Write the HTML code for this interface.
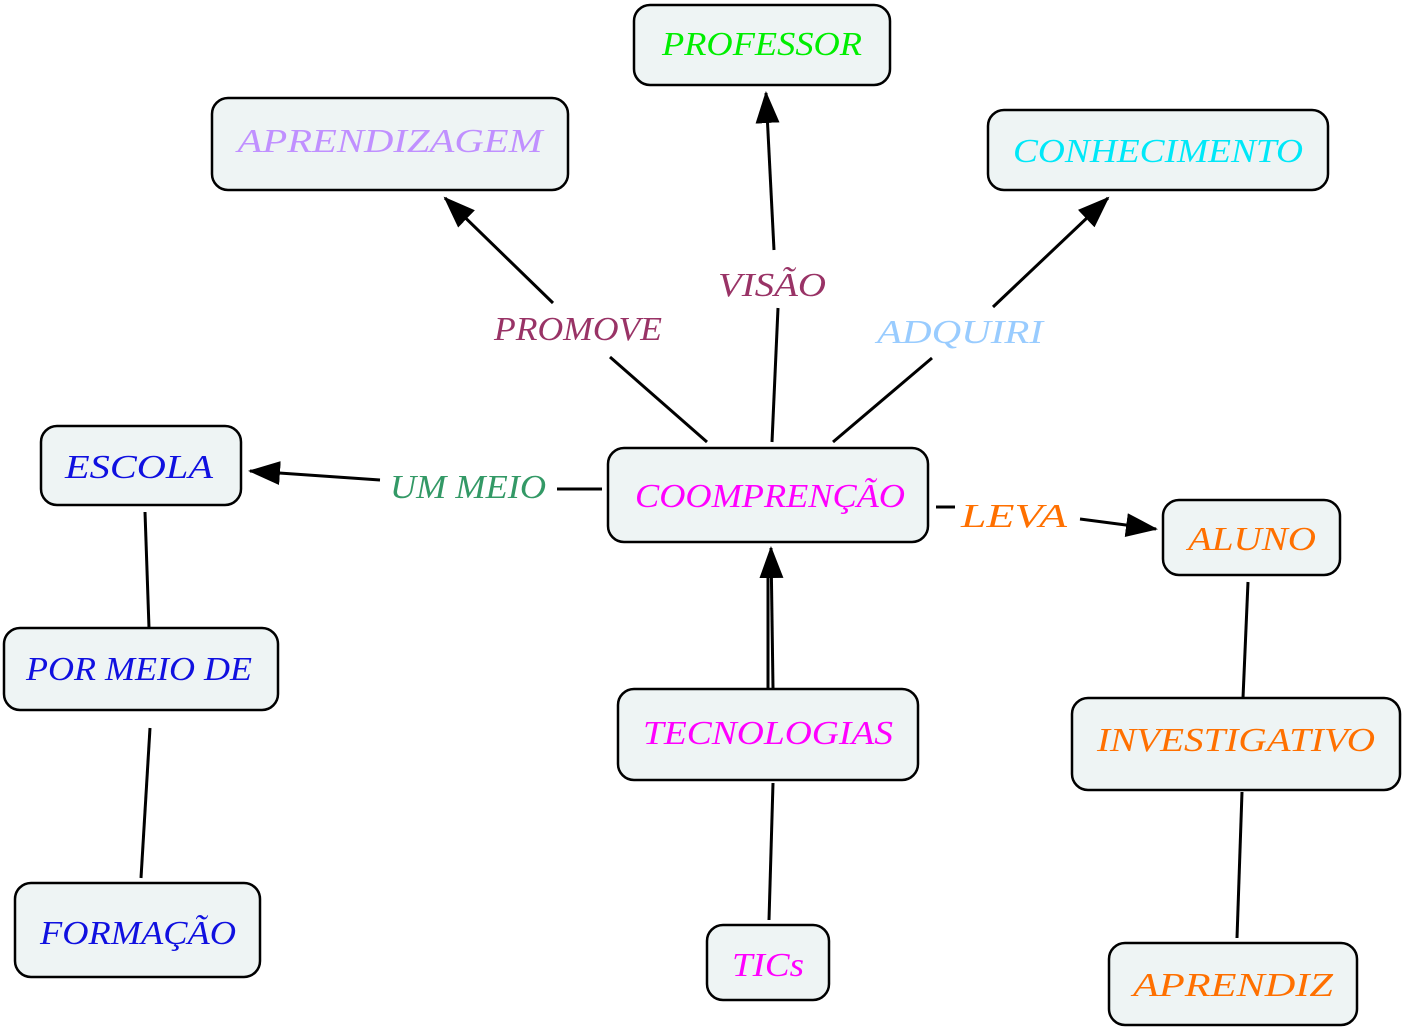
<!DOCTYPE html>
<html><head><meta charset="utf-8"><style>
html,body{margin:0;padding:0;background:#fff;}
svg text{font-family:"Liberation Serif",serif;font-style:italic;}
</style></head><body>
<svg width="1405" height="1030" viewBox="0 0 1405 1030" xmlns="http://www.w3.org/2000/svg">
<defs><marker id="a" markerWidth="10" markerHeight="10" refX="9" refY="5" orient="auto" markerUnits="userSpaceOnUse" viewBox="0 0 10 10"><path d="M0,0 L10,5 L0,10 z" fill="#000"/></marker>
<marker id="b" markerWidth="32" markerHeight="32" refX="30" refY="16" orient="auto" markerUnits="userSpaceOnUse" viewBox="0 0 32 32"><path d="M0,4 L32,16 L0,28 z" fill="#000"/></marker></defs>
<g stroke="#000" stroke-width="3" fill="none">
<line x1="707" y1="442" x2="610" y2="357"/>
<line x1="553" y1="303" x2="445" y2="198" marker-end="url(#b)"/>
<line x1="772" y1="442" x2="778" y2="308"/>
<line x1="774" y1="250" x2="766" y2="93" marker-end="url(#b)"/>
<line x1="833" y1="442" x2="932" y2="358"/>
<line x1="993" y1="307" x2="1108" y2="198" marker-end="url(#b)"/>
<line x1="602" y1="489" x2="557" y2="489"/>
<line x1="380" y1="480" x2="250" y2="471" marker-end="url(#b)"/>
<line x1="936" y1="507" x2="955" y2="507"/>
<line x1="1080" y1="519" x2="1156" y2="529" marker-end="url(#b)"/>
<line x1="768" y1="688" x2="768" y2="560"/>
<line x1="773" y1="688" x2="771" y2="548" marker-end="url(#b)"/>
<line x1="145" y1="512" x2="149" y2="628"/>
<line x1="150" y1="728" x2="141" y2="878"/>
<line x1="769" y1="920" x2="773" y2="783"/>
<line x1="1248" y1="582" x2="1243" y2="698"/>
<line x1="1242" y1="792" x2="1237" y2="938"/>
</g>
<g fill="#eef4f4" stroke="#000" stroke-width="2.5">
<rect x="634" y="5" width="256" height="80" rx="16"/>
<rect x="212" y="98" width="356" height="92" rx="16"/>
<rect x="988" y="110" width="340" height="80" rx="16"/>
<rect x="41" y="426" width="200" height="79" rx="16"/>
<rect x="608" y="448" width="320" height="94" rx="16"/>
<rect x="1163" y="500" width="177" height="75" rx="16"/>
<rect x="4" y="628" width="274" height="82" rx="16"/>
<rect x="618" y="689" width="300" height="91" rx="16"/>
<rect x="1072" y="698" width="328" height="92" rx="16"/>
<rect x="15" y="883" width="245" height="94" rx="16"/>
<rect x="707" y="925" width="122" height="75" rx="16"/>
<rect x="1109" y="943" width="248" height="82" rx="16"/>
</g>
<g font-size="34" text-anchor="middle">
<text x="762" y="55" fill="#00ee00" textLength="200" lengthAdjust="spacingAndGlyphs">PROFESSOR</text>
<text x="390" y="152" fill="#c090ff" textLength="305" lengthAdjust="spacingAndGlyphs">APRENDIZAGEM</text>
<text x="1158" y="162" fill="#00e8f8" textLength="290" lengthAdjust="spacingAndGlyphs">CONHECIMENTO</text>
<text x="139" y="478" fill="#1010e0" textLength="148" lengthAdjust="spacingAndGlyphs">ESCOLA</text>
<text x="770" y="507" fill="#ff00ff" textLength="270" lengthAdjust="spacingAndGlyphs">COOMPRENÇÃO</text>
<text x="1252" y="550" fill="#ff7000" textLength="128" lengthAdjust="spacingAndGlyphs">ALUNO</text>
<text x="139" y="680" fill="#1010e0" textLength="226" lengthAdjust="spacingAndGlyphs">POR MEIO DE</text>
<text x="768" y="744" fill="#ff00ff" textLength="250" lengthAdjust="spacingAndGlyphs">TECNOLOGIAS</text>
<text x="1236" y="751" fill="#ff7000" textLength="278" lengthAdjust="spacingAndGlyphs">INVESTIGATIVO</text>
<text x="138" y="944" fill="#1010e0" textLength="196" lengthAdjust="spacingAndGlyphs">FORMAÇÃO</text>
<text x="768" y="976" fill="#ff00ff" textLength="72" lengthAdjust="spacingAndGlyphs">TICs</text>
<text x="1233" y="996" fill="#ff7000" textLength="200" lengthAdjust="spacingAndGlyphs">APRENDIZ</text>
<text x="578" y="340" fill="#993366" textLength="168" lengthAdjust="spacingAndGlyphs">PROMOVE</text>
<text x="772" y="296" fill="#993366" textLength="108" lengthAdjust="spacingAndGlyphs">VISÃO</text>
<text x="960" y="343" fill="#99ccff" textLength="166" lengthAdjust="spacingAndGlyphs">ADQUIRI</text>
<text x="468" y="498" fill="#339966" textLength="156" lengthAdjust="spacingAndGlyphs">UM MEIO</text>
<text x="1014" y="527" fill="#ff7000" textLength="106" lengthAdjust="spacingAndGlyphs">LEVA</text>
</g>
</svg>
</body></html>
